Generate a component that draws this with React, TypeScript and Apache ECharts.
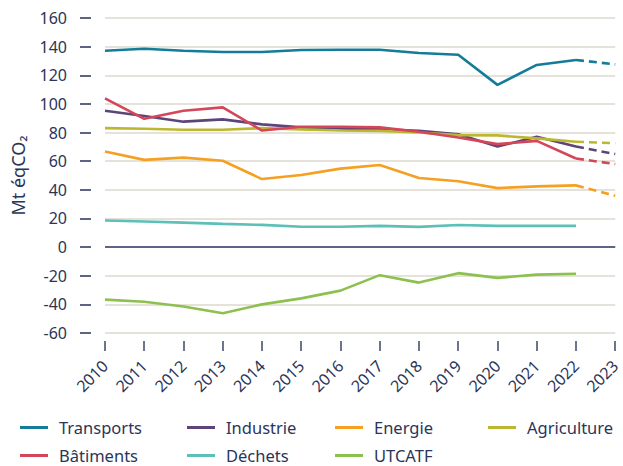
import React, { useEffect, useRef } from "react";
import * as echarts from "echarts";

const years = ["2010","2011","2012","2013","2014","2015","2016","2017","2018","2019","2020","2021","2022","2023"];

const transports = [137.1, 138.5, 137.1, 136.3, 136.3, 137.6, 137.8, 137.8, 135.6, 134.3, 113.3, 127.2, 130.7, 127.6];
const industrie = [95.2, 91.5, 87.6, 89.2, 85.7, 83.6, 82.8, 82.2, 81.2, 78.8, 70.2, 77.0, 70.2, 65.0];
const energie = [66.8, 60.9, 62.5, 60.3, 47.5, 50.3, 54.8, 57.3, 48.2, 46.0, 41.2, 42.4, 43.1, 35.8];
const agriculture = [83.1, 82.6, 82.0, 82.0, 83.1, 82.2, 81.4, 81.2, 80.0, 78.2, 78.0, 75.9, 73.6, 72.5];
const batiments = [103.9, 89.6, 95.2, 97.6, 81.4, 84.0, 84.0, 83.6, 80.5, 76.6, 71.9, 74.2, 61.9, 58.0];
const dechets = [18.6, 17.9, 17.1, 16.2, 15.5, 14.2, 14.2, 14.8, 14.1, 15.4, 14.8, 14.8, 14.8, null];
const utcatf = [-36.7, -38.2, -41.5, -46.2, -40.0, -35.8, -30.4, -19.6, -24.8, -18.2, -21.5, -19.2, -18.6, null];

const yTicks = { min: -60, max: 160, step: 20 };

const names = ["Transports", "Industrie", "Energie", "Agriculture", "Bâtiments", "Déchets", "UTCATF"];
const colors: Record<string, string> = {
  Transports: "#147c98",
  Industrie: "#5e4479",
  Energie: "#f5a021",
  Agriculture: "#bbb830",
  "Bâtiments": "#d44659",
  "Déchets": "#5cbfb8",
  UTCATF: "#8cc04f",
};
const values: Record<string, (number | null)[]> = {
  Transports: transports,
  Industrie: industrie,
  Energie: energie,
  Agriculture: agriculture,
  "Bâtiments": batiments,
  "Déchets": dechets,
  UTCATF: utcatf,
};
const projected = ["Transports", "Industrie", "Energie", "Agriculture", "Bâtiments"];

const FONT = "Noto Sans";
const TXT = "#2b3558";

export default function App() {
  const ref = useRef<HTMLDivElement>(null);
  useEffect(() => {
    if (!ref.current) return;
    const chart = echarts.init(ref.current, undefined, { renderer: "svg" });
    const series: any[] = [];
    names.forEach((n, i) => {
      const v = values[n];
      const solid = v.map((x, j) => (j <= 12 ? x : null));
      const s: any = {
        name: n,
        type: "line",
        data: solid,
        symbol: "none",
        lineStyle: { color: colors[n], width: 2.6 },
        itemStyle: { color: colors[n] },
        z: 3,
      };
      if (i === 0) {
        s.markLine = {
          silent: true,
          symbol: ["none", "none"],
          label: { show: false },
          lineStyle: { color: "#5d6587", width: 2, type: "solid" },
          data: [{ yAxis: 0 }],
          z: 1,
        };
      }
      series.push(s);
      if (projected.includes(n)) {
        series.push({
          name: n,
          type: "line",
          data: v.map((x, j) => (j >= 12 ? x : null)),
          symbol: "none",
          lineStyle: { color: colors[n], width: 2.6, type: [8, 5] },
          itemStyle: { color: colors[n] },
          z: 3,
        });
      }
    });
    const legendCol = (left: number, data: string[]) => ({
      left,
      top: 419,
      height: 80,
      orient: "vertical",
      padding: 0,
      itemGap: 11,
      itemWidth: 28,
      itemHeight: 3,
      icon: "rect",
      data,
      selectedMode: false,
      textStyle: { fontFamily: FONT, fontSize: 16.5, lineHeight: 16.5, color: TXT, padding: [0, 0, 0, 6] },
    });
    chart.setOption({
      animation: false,
      grid: { left: 105, right: 5, top: 18, bottom: 133 },
      legend: [
        legendCol(20, ["Transports", "Bâtiments"]),
        legendCol(187, ["Industrie", "Déchets"]),
        legendCol(335, ["Energie", "UTCATF"]),
        legendCol(488, ["Agriculture"]),
      ],
      xAxis: {
        type: "category",
        data: years,
        boundaryGap: false,
        offset: 8,
        axisLine: { show: false, onZero: false },
        axisTick: { show: true, length: 10, lineStyle: { color: "#3d4668", width: 1.5 } },
        axisLabel: { rotate: 45, margin: 22, fontFamily: FONT, fontSize: 16, color: TXT },
        splitLine: { show: false },
      },
      yAxis: {
        type: "value",
        min: yTicks.min,
        max: yTicks.max,
        interval: yTicks.step,
        offset: 14,
        name: "Mt éqCO₂",
        nameLocation: "middle",
        nameRotate: 90,
        nameGap: 64,
        nameTextStyle: { fontFamily: FONT, fontSize: 18, color: TXT },
        axisLine: { show: false },
        axisTick: { show: true, length: 11, lineStyle: { color: "#5d6587", width: 2 } },
        axisLabel: { margin: 24, fontFamily: FONT, fontSize: 16, color: TXT },
        splitLine: { show: true, lineStyle: { color: "#e5e2da", width: 2 } },
      },
      series,
    });
    return () => chart.dispose();
  }, []);
  return <div ref={ref} style={{ width: 623, height: 466, position: "absolute", left: 0, top: 0 }} />;
}
